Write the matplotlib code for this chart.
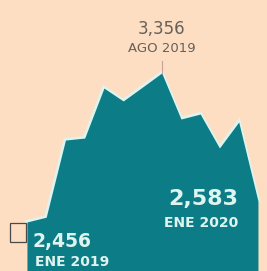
import matplotlib
matplotlib.use("Agg")
import matplotlib.pyplot as plt
from matplotlib.patches import Rectangle

months = ["ENE 2019", "FEB 2019", "MAR 2019", "ABR 2019", "MAY 2019", "JUN 2019",
          "JUL 2019", "AGO 2019", "SEP 2019", "OCT 2019", "NOV 2019", "DIC 2019", "ENE 2020"]
values = [2456, 2485, 2951, 2963, 3265, 3187, 3271, 3356, 3078, 3108, 2903, 3060, 2583]

bg = "#fddec2"
teal = "#0c7c86"
light = "#dff4ee"

fig = plt.figure(figsize=(2.67, 2.71), dpi=100)
fig.patch.set_facecolor(bg)
ax = fig.add_axes([0, 0, 1, 1])
ax.set_facecolor(bg)
x = list(range(len(values)))
ax.set_xlim(-1.40, 12.47)
ax.set_ylim(2160, 3797)
ax.axis("off")

ax.plot(x, values, color=light, lw=3.0, zorder=1, solid_joinstyle="miter")
ax.fill_between(x, values, 2100, color=teal, lw=0, zorder=2)

# peak annotation
ip = values.index(max(values))
ax.plot([ip, ip], [values[ip], values[ip] + 70], color="#c9a09a", lw=0.8, zorder=3)
ax.text(ip, values[ip] + 268, f"{values[ip]:,}", ha="center", va="center",
        fontsize=12, color="#66605a")
ax.text(ip, values[ip] + 148, months[ip], ha="center", va="center",
        fontsize=9.5, color="#66605a")

# first point label
ax.add_patch(Rectangle((-0.88, values[0] - 118), 0.85, 112, fill=False,
                       edgecolor="#4a4a4a", lw=0.9, zorder=3))
ax.text(0.3, values[0] - 118, f"{values[0]:,}", ha="left", va="center",
        fontsize=13.5, fontweight="bold", color=light, zorder=4)
ax.text(0.4, values[0] - 243, months[0], ha="left", va="center",
        fontsize=10, fontweight="bold", color=light, zorder=4)

# last point label
ax.text(11.0, values[-1] + 10, f"{values[-1]:,}", ha="right", va="center",
        fontsize=16, fontweight="bold", color=light, zorder=4)
ax.text(11.0, values[-1] - 133, months[-1], ha="right", va="center",
        fontsize=10, fontweight="bold", color=light, zorder=4)

fig.savefig("out.png", dpi=100, facecolor=bg)
